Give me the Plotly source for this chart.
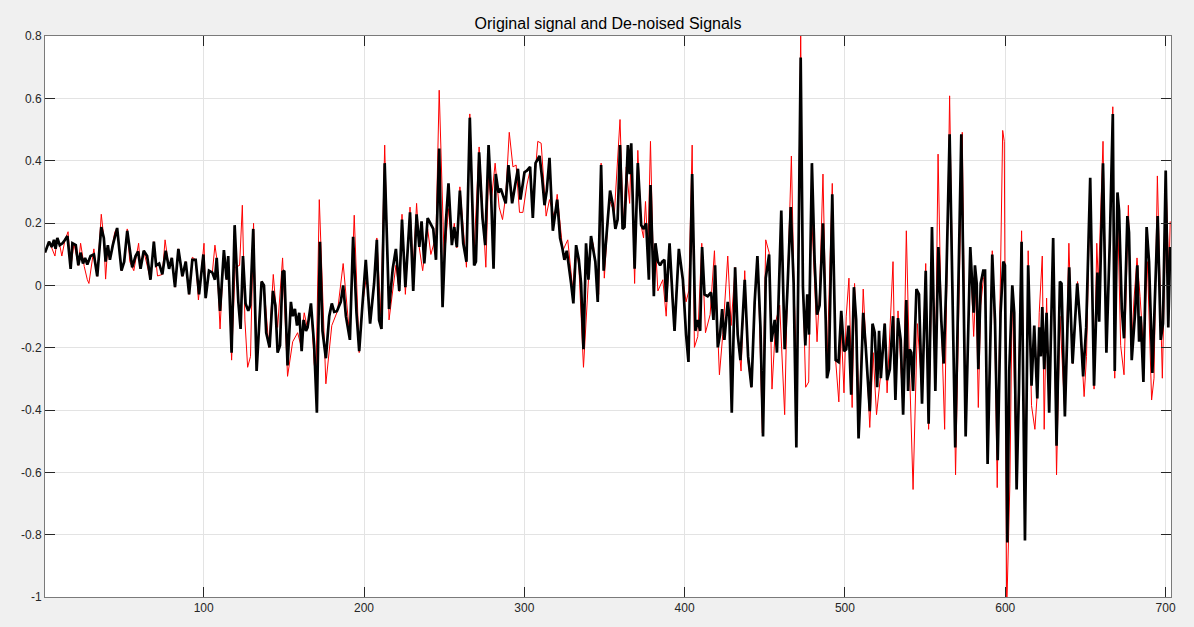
import plotly.graph_objects as go

# (sample index, amplitude) vertices of the raw signal
noisy_pts = [
    (1, 0.105), (3.5, 0.140), (5.2, 0.120), (7.2, 0.094), (8.7, 0.152), (10.2, 0.129), (11.5, 0.094),
    (13.5, 0.146), (15.4, 0.172), (17.0, 0.053), (19.1, 0.135), (21.8, 0.064), (23.2, 0.135),
    (25.5, 0.060), (27.4, 0.018), (28.4, 0.006), (31.5, 0.117), (33.6, 0.029), (36.1, 0.228),
    (37.7, 0.152), (38.8, 0.020), (40.2, 0.129), (41.5, 0.082), (44.5, 0.170), (46.0, 0.184),
    (48.7, 0.047), (50.4, 0.076), (52.3, 0.181), (53.9, 0.076), (56.4, 0.047), (59.4, 0.135),
    (60.6, 0.053), (62.6, 0.111), (64.7, 0.064), (66.8, 0.018), (68.9, 0.140), (71.2, 0.030),
    (74.2, 0.035), (75.9, 0.146), (78.4, 0.053), (80.1, 0.088), (82.1, -0.006), (84.2, 0.117),
    (86.7, 0.029), (88.8, 0.076), (90.9, -0.029), (92.9, 0.090), (95.0, 0.082), (96.7, -0.047),
    (100.2, 0.135), (101.2, -0.041), (103.3, 0.047), (105.4, 0.041), (107.0, 0.129), (108.1, 0.088),
    (110.2, -0.140), (112.6, 0.113), (114.3, 0.018), (115.3, 0.094), (117.4, -0.240), (119.6, 0.058),
    (122.4, 0.064), (124.1, 0.257), (125.7, -0.111), (127.4, -0.263), (129.2, -0.228), (131.1, 0.199),
    (133.0, -0.260), (136.1, 0.012), (137.6, 0.000), (140.7, -0.199), (143.4, 0.035),
    (146.1, -0.135), (149.2, 0.088), (152.3, -0.292), (155.5, -0.181), (158.6, -0.152), (160.5, -0.190),
    (162.7, -0.088), (164.8, -0.140), (166.9, -0.060), (168.9, -0.250), (170.0, -0.300), (172.1, 0.275),
    (176.2, -0.316), (179.9, -0.129), (183.5, -0.082), (187.0, 0.070), (191.2, -0.170), (193.9, 0.225),
    (197.0, -0.216), (199.0, -0.064), (201.7, 0.035), (203.8, -0.100), (206.3, 0.000), (208.0, 0.152),
    (210.5, -0.099), (212.9, 0.450), (215.6, -0.111),
    (219.9, 0.064), (222.0, -0.020), (223.7, 0.228), (225.8, -0.029), (228.7, 0.251), (230.7, 0.053),
    (232.8, 0.263), (234.5, 0.120), (236.6, 0.047), (239.7, 0.181), (241.7, 0.099), (244.9, 0.158),
    (246.9, 0.626), (250.0, 0.082), (252.7, 0.246), (254.8, 0.130), (256.3, 0.199), (257.9, 0.120),
    (259.8, 0.316), (263.9, 0.058), (266.0, 0.550), (268.7, 0.111), (271.8, 0.444), (276.0, 0.058),
    (277.7, 0.357), (279.3, 0.263), (281.8, 0.392), (284.3, 0.251), (286.4, 0.211), (288.4, 0.287),
    (290.6, 0.491), (292.9, 0.380), (294.9, 0.386), (297.0, 0.234), (299.1, 0.234), (301.6, 0.322),
    (303.6, 0.370), (305.3, 0.263), (308.4, 0.462), (310.5, 0.456), (313.6, 0.222), (315.7, 0.275),
    (318.8, 0.216), (320.5, 0.292), (324.0, 0.111), (327.1, 0.146), (330.2, -0.012), (332.3, 0.120),
    (334.0, 0.064), (336.9, -0.263), (339.6, -0.018), (341.6, 0.158), (343.1, 0.129), (344.3, 0.076),
    (346.4, -0.029), (347.9, 0.392), (349.9, 0.023), (353.0, 0.275), (356.2, 0.234), (359.7, 0.532),
    (361.8, 0.181), (363.6, 0.380), (365.7, 0.263), (366.7, 0.440), (368.8, 0.006), (370.8, 0.433),
    (372.9, 0.190), (374.4, 0.152), (375.6, 0.269), (377.1, 0.111), (378.7, 0.462), (380.8, -0.006),
    (381.8, 0.130), (383.3, -0.018), (386.4, 0.018), (388.5, -0.099), (390.6, 0.123), (392.6, -0.064),
    (393.7, -0.120), (396.4, 0.111), (398.9, 0.020), (400.9, -0.053), (402.6, -0.018), (404.7, 0.450),
    (406.1, -0.199), (408.2, -0.164), (410.7, 0.135), (413.0, -0.152), (415.9, -0.094), (418.6, 0.111),
    (421.7, -0.287), (423.8, -0.158), (426.9, 0.094), (429.0, -0.129), (431.5, 0.058), (433.1, -0.150),
    (435.2, -0.275), (437.5, 0.047), (439.6, -0.246), (441.7, -0.327), (443.7, -0.029), (445.8, 0.064),
    (448.5, -0.474), (450.6, 0.146), (452.7, 0.105), (454.5, -0.333), (456.8, -0.117), (459.3, -0.064),
    (462.4, -0.415), (464.1, -0.018), (466.6, 0.415), (468.2, 0.000), (470.1, -0.322), (472.4, 0.813),
    (473.8, 0.006), (475.5, -0.327), (477.4, -0.310), (479.0, 0.257), (481.1, 0.006), (482.6, -0.181),
    (484.2, -0.018), (486.3, 0.357), (488.8, -0.263), (492.1, 0.327), (494.2, -0.240), (496.2, -0.374),
    (497.7, -0.135), (499.4, -0.345), (500.8, -0.099), (502.5, 0.023), (504.5, -0.392), (506.0, 0.006),
    (509.1, -0.415), (511.4, -0.012), (513.0, -0.181), (515.5, -0.456), (517.6, -0.216), (519.7, -0.415),
    (522.4, -0.281), (524.8, -0.123), (526.3, -0.345), (530.0, 0.076), (531.5, -0.368), (533.1, -0.082),
    (536.3, -0.404), (538.3, 0.175), (540.4, -0.287), (542.5, -0.655), (545.2, -0.123), (548.1, -0.345),
    (550.4, 0.070), (552.2, -0.462), (554.5, 0.099), (556.4, -0.300), (558.1, 0.421), (560.1, -0.111),
    (562.2, -0.462), (565.3, 0.608), (569.0, -0.608), (573.2, 0.491), (575.3, -0.462), (578.2, 0.099),
    (580.3, -0.164), (581.8, 0.006), (583.2, -0.392), (584.7, -0.064), (586.3, 0.018), (587.4, 0.040),
    (589.0, -0.560), (591.9, 0.111), (593.6, -0.181), (595.0, -0.649), (596.7, -0.076), (598.4, 0.497),
    (599.4, 0.462), (600.9, -1.050), (602.9, -0.637), (604.4, -0.006), (607.1, -0.649), (610.2, 0.175),
    (611.2, -0.193), (612.3, -0.813), (614.3, 0.111), (616.4, -0.386), (618.5, -0.462), (620.0, -0.345),
    (621.2, -0.088), (623.1, 0.094), (624.3, -0.462), (625.8, -0.041), (627.4, -0.404), (629.9, 0.152),
    (632.0, -0.608), (634.1, -0.099), (637.2, -0.415), (639.7, 0.135), (642.0, -0.251), (645.1, 0.012),
    (646.9, -0.146), (649.2, -0.357), (650.7, -0.228), (653.0, 0.333), (655.4, -0.333), (657.1, 0.135),
    (658.1, 0.006), (661.0, 0.462), (663.1, -0.181), (665.2, 0.123), (667.1, 0.573), (668.3, -0.298),
    (670.0, 0.263), (672.0, -0.193), (674.1, -0.287), (676.8, 0.257), (678.9, -0.193), (680.3, -0.047),
    (682.2, 0.088), (684.1, -0.035), (686.2, -0.205), (688.7, 0.076), (691.3, -0.368), (692.8, -0.298),
    (694.9, 0.351), (698.0, -0.298), (700.5, 0.298), (702.1, 0.018), (702.9, 0.205),
]

# (sample index, amplitude) vertices of the wavelet de-noised signal
denoised_pts = [
    (1, 0.105), (3.5, 0.140), (5.2, 0.123), (6.6, 0.146), (7.6, 0.117), (8.7, 0.152), (10.2, 0.129),
    (11.9, 0.135), (13.5, 0.146), (15.0, 0.158), (17.0, 0.053), (18.1, 0.135), (20.2, 0.129),
    (21.8, 0.064), (23.2, 0.105), (24.7, 0.070), (26.0, 0.088), (27.4, 0.067), (29.4, 0.094),
    (31.5, 0.099), (33.6, 0.029), (36.1, 0.187), (37.7, 0.152), (38.8, 0.076), (40.2, 0.129),
    (41.5, 0.082), (43.3, 0.129), (46.0, 0.184), (48.7, 0.047), (50.4, 0.076), (52.3, 0.175),
    (55.4, 0.058), (57.5, 0.094), (59.1, 0.109), (60.6, 0.053), (62.6, 0.111), (64.7, 0.094),
    (66.8, 0.018), (68.9, 0.140), (70.3, 0.064), (72.2, 0.070), (74.2, 0.035), (76.3, 0.111),
    (78.4, 0.053), (80.1, 0.088), (82.1, -0.006), (84.2, 0.117), (86.7, 0.029), (88.8, 0.076),
    (90.9, -0.029), (92.9, 0.082), (95.0, 0.082), (97.1, -0.029), (99.8, 0.099), (101.2, -0.041),
    (103.3, 0.047), (105.4, 0.041), (107.0, 0.018), (108.1, 0.088), (110.2, -0.082), (112.6, 0.113),
    (114.3, 0.018), (115.3, 0.094), (117.4, -0.216), (119.3, 0.193), (121.6, -0.053), (123.0, -0.140),
    (124.5, 0.094), (126.1, -0.058), (127.8, -0.082), (129.0, -0.064), (130.9, 0.181), (133.0, -0.275),
    (136.1, 0.012), (137.6, 0.000), (139.0, -0.152), (141.1, -0.199), (143.2, -0.018),
    (144.7, -0.064), (146.1, -0.216), (147.6, -0.193), (149.2, 0.043), (150.3, 0.047), (152.3, -0.257),
    (154.4, -0.053), (155.5, -0.099), (156.9, -0.076), (158.2, -0.129), (159.6, -0.088), (161.1, -0.211),
    (162.3, -0.111), (163.8, -0.146), (164.8, -0.135), (166.9, -0.058), (168.9, -0.193), (170.6, -0.409),
    (172.5, 0.140), (174.1, -0.146), (176.2, -0.234), (178.3, -0.099), (179.9, -0.058), (181.4, -0.085),
    (183.1, -0.083), (185.5, -0.053), (187.0, 0.000), (188.7, -0.099), (191.2, -0.175), (193.2, 0.156),
    (195.3, -0.088), (197.0, -0.211), (199.0, -0.064), (201.1, 0.082), (203.8, -0.123), (206.3, 0.006),
    (208.0, 0.146), (209.4, -0.111), (210.9, -0.140), (212.9, 0.392), (215.6, -0.076),
    (217.9, 0.053), (219.9, 0.117), (222.0, -0.018), (223.7, 0.211), (225.8, -0.006), (228.7, 0.234),
    (230.7, -0.018), (232.8, 0.228), (234.5, 0.123), (235.9, 0.205), (237.6, 0.070), (239.7, 0.216),
    (241.7, 0.193), (243.2, 0.181), (244.9, 0.082), (246.9, 0.439), (249.0, -0.070), (251.1, 0.205),
    (252.7, 0.327), (254.8, 0.129), (256.3, 0.187), (257.9, 0.123), (259.8, 0.304), (261.9, 0.135),
    (263.9, 0.076), (266.0, 0.538), (268.7, 0.064), (269.8, 0.076), (271.8, 0.427), (273.9, 0.216),
    (275.6, 0.129), (277.7, 0.450), (279.3, 0.287), (280.8, 0.053), (282.2, 0.357), (283.9, 0.298),
    (285.3, 0.310), (286.4, 0.292), (287.4, 0.275), (288.4, 0.263), (290.1, 0.386),
    (291.2, 0.322), (292.4, 0.263), (293.9, 0.310), (296.0, 0.374), (297.6, 0.275), (300.1, 0.363),
    (301.6, 0.368), (303.6, 0.380), (305.3, 0.216), (307.0, 0.392), (309.5, 0.415), (311.1, 0.345),
    (312.6, 0.257), (314.0, 0.304), (315.7, 0.409), (317.8, 0.175), (320.5, 0.275), (322.3, 0.152),
    (323.6, 0.123), (325.0, 0.082), (326.5, 0.111), (328.1, 0.053), (329.2, 0.006), (330.6, -0.058),
    (332.3, 0.129), (334.0, 0.082), (335.4, 0.006), (336.9, -0.205), (338.5, 0.135), (340.0, 0.018),
    (341.6, 0.158), (343.1, 0.111), (344.3, 0.076), (345.8, -0.053), (347.9, 0.386), (349.5, 0.047),
    (352.0, 0.216), (353.5, 0.304), (355.1, 0.263), (356.8, 0.181), (358.2, 0.211), (359.7, 0.450),
    (361.3, 0.181), (362.5, 0.187), (364.6, 0.450), (365.7, 0.357), (366.7, 0.456), (368.8, 0.053),
    (370.8, 0.392), (372.9, 0.193), (374.4, 0.181), (376.0, 0.199), (377.7, 0.018), (378.7, 0.322),
    (380.8, -0.035), (381.8, 0.135), (383.3, 0.076), (384.7, 0.064), (386.0, 0.076), (387.4, 0.082),
    (388.5, -0.053), (390.6, 0.135), (392.6, -0.053), (393.7, -0.146), (396.4, 0.117), (398.9, 0.018),
    (400.9, -0.158), (402.4, -0.246), (404.7, 0.357), (406.7, -0.146), (408.2, -0.111), (409.7, -0.146),
    (410.9, 0.123), (412.4, -0.029), (414.4, -0.035), (416.5, -0.023), (418.0, -0.111), (419.0, 0.064),
    (420.7, -0.199), (422.1, -0.158), (423.4, -0.076), (424.8, -0.175), (426.9, -0.053), (427.9, -0.099),
    (429.4, -0.409), (431.5, 0.058), (433.1, -0.158), (434.8, -0.240),
    (437.5, 0.018), (439.6, -0.228), (441.7, -0.327), (443.7, -0.053), (445.4, 0.094), (447.3, -0.135),
    (448.9, -0.485), (450.6, 0.023), (452.7, 0.099), (454.1, -0.181), (456.2, -0.111), (457.6, -0.216),
    (460.3, 0.240), (462.4, -0.205), (464.1, -0.018), (466.2, 0.251), (468.0, 0.006), (469.7, -0.520),
    (472.4, 0.731), (473.8, -0.006), (475.3, -0.193), (476.5, -0.029), (477.6, -0.158), (479.4, 0.392),
    (481.1, 0.076), (482.6, -0.094), (484.2, -0.064), (486.3, 0.199), (488.0, -0.111), (488.8, -0.298),
    (490.0, -0.269), (492.1, 0.292), (494.2, -0.240), (496.0, -0.246), (497.7, -0.082), (499.4, -0.211),
    (500.8, -0.205), (502.3, -0.129), (503.9, -0.351), (505.6, -0.006), (507.0, -0.111), (508.5, -0.491),
    (509.7, -0.345), (511.4, -0.088), (513.0, -0.199), (515.5, -0.404), (517.2, -0.123), (518.6, -0.152),
    (520.1, -0.327), (521.3, -0.146), (522.4, -0.298), (524.8, -0.123), (526.3, -0.304), (528.0, -0.269),
    (530.0, -0.099), (531.5, -0.368), (533.1, -0.105), (534.8, -0.175), (536.3, -0.415), (538.3, -0.047),
    (539.4, -0.339), (540.4, -0.205), (541.4, -0.216), (542.5, -0.339), (544.6, -0.012), (546.2, -0.029),
    (548.1, -0.380), (550.4, 0.047), (552.2, -0.444), (554.3, 0.187), (556.4, -0.339), (558.3, 0.123),
    (560.1, -0.111), (561.6, -0.251), (563.2, 0.006), (565.3, 0.485), (568.8, -0.520), (572.6, 0.485),
    (575.3, -0.485), (578.2, 0.123), (580.3, -0.088), (581.1, 0.064), (582.2, 0.006), (583.2, -0.269),
    (584.7, 0.006), (586.3, 0.047), (587.4, 0.047), (589.0, -0.573), (591.9, 0.099), (593.6, -0.111),
    (595.3, -0.561), (597.1, -0.088), (598.8, 0.076), (599.8, 0.064), (601.3, -0.825), (602.5, -0.275),
    (604.4, 0.000), (605.6, -0.088), (607.1, -0.655), (608.5, -0.345), (610.2, 0.140), (612.3, -0.819),
    (614.3, 0.064), (616.4, -0.322), (618.1, -0.129), (620.0, -0.363), (621.2, -0.135), (622.2, -0.228),
    (623.1, -0.070), (624.3, -0.269), (625.8, -0.088), (627.4, -0.409), (629.9, 0.152), (632.0, -0.515),
    (634.1, 0.012), (635.1, 0.006), (637.2, -0.421), (639.9, 0.058), (642.0, -0.251), (644.9, 0.006),
    (646.9, -0.135), (648.6, -0.292), (650.5, -0.135), (653.0, 0.345), (655.4, -0.322), (657.5, 0.041),
    (658.6, -0.117), (661.0, 0.392), (663.1, -0.216), (665.2, 0.135), (667.1, 0.550), (668.3, -0.275),
    (670.0, 0.298), (671.0, 0.240), (672.7, -0.076), (674.1, -0.170), (676.2, 0.222), (677.2, 0.170),
    (678.9, -0.240), (681.0, -0.088), (682.4, 0.064), (683.5, -0.181), (684.5, -0.099), (686.2, -0.310),
    (688.2, 0.187), (689.7, 0.076), (691.8, -0.281), (693.8, 0.047), (695.1, 0.222), (697.0, -0.175),
    (698.4, -0.123), (700.1, 0.368), (701.7, -0.135), (702.9, 0.123),
]

x_ticks = [100, 200, 300, 400, 500, 600, 700]
y_ticks = [-1, -0.8, -0.6, -0.4, -0.2, 0, 0.2, 0.4, 0.6, 0.8]
y_tick_text = ["-1", "-0.8", "-0.6", "-0.4", "-0.2", "0", "0.2", "0.4", "0.6", "0.8"]

fig = go.Figure()
fig.add_trace(go.Scatter(
    x=[p[0] for p in noisy_pts], y=[p[1] for p in noisy_pts],
    mode="lines", line=dict(color="#ff0000", width=1), hoverinfo="skip", showlegend=False,
))
fig.add_trace(go.Scatter(
    x=[p[0] for p in denoised_pts], y=[p[1] for p in denoised_pts],
    mode="lines", line=dict(color="#000000", width=2.7), hoverinfo="skip", showlegend=False,
))

axis_common = dict(
    showline=True, linecolor="#7a7a7a", linewidth=1, mirror="allticks",
    ticks="inside", ticklen=10, tickcolor="#262626", tickwidth=1,
    showgrid=True, gridcolor="#e3e3e3", gridwidth=1, zeroline=False,
    tickfont=dict(family="Liberation Sans, Arial, sans-serif", size=12, color="#262626"),
)

fig.update_layout(
    width=1194, height=627,
    margin=dict(l=45, r=23, t=36, b=30),
    paper_bgcolor="#f0f0f0", plot_bgcolor="#ffffff",
    title=dict(
        text="Original signal and De-noised Signals",
        x=0.5, xanchor="center", xref="paper",
        y=1, yref="paper", yanchor="bottom", pad=dict(b=7),
        font=dict(family="Liberation Sans, Arial, sans-serif", size=16, color="#000000"),
    ),
    xaxis=dict(range=[1, 703.4], tickvals=x_ticks, **axis_common),
    yaxis=dict(range=[-1, 0.8], tickvals=y_ticks, ticktext=y_tick_text, **axis_common),
)

fig.write_html("out.html")
